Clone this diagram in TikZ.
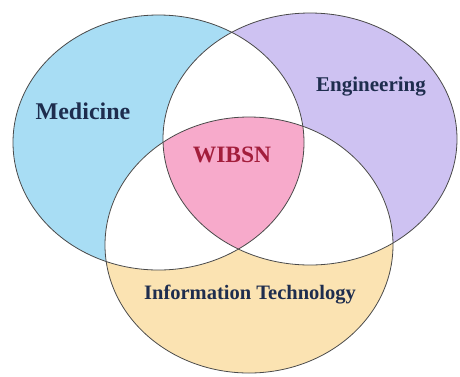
\documentclass[tikz,border=0pt]{standalone}
\usepackage{xcolor}
\usepackage{fontspec}
\setmainfont{Liberation Serif}
\usepackage{tikz}

\definecolor{medblue}{HTML}{A8DDF4}
\definecolor{engviolet}{HTML}{CEC2F2}
\definecolor{itpeach}{HTML}{FBE3B2}
\definecolor{corepink}{HTML}{F7AACB}
\definecolor{labelnavy}{HTML}{1E2D4E}
\definecolor{corered}{HTML}{A31E3C}
\definecolor{rim}{HTML}{4A4A4A}

\def\medset{(158.5,142.5) ellipse [x radius=145.5pt, y radius=127.5pt]}
\def\engset{(310,139) ellipse [x radius=147pt, y radius=126pt]}
\def\itset{(249,245) ellipse [x radius=144pt, y radius=128pt]}

\tikzset{
	setlabel/.style={font=\bfseries, text=labelnavy, inner sep=0pt}
}

\begin{document}
\begin{tikzpicture}[x=1pt,y=-1pt]
\useasboundingbox (0,0) rectangle (460,376);

\fill[medblue] \medset;
\fill[engviolet] \engset;
\fill[itpeach] \itset;

\begin{scope}
\clip \medset;
\fill[white] \engset;
\fill[white] \itset;
\end{scope}
\begin{scope}
\clip \engset;
\fill[white] \itset;
\end{scope}
\begin{scope}
\clip \medset;
\clip \engset;
\fill[corepink] \itset;
\end{scope}

\draw[rim, line width=0.8pt] \medset;
\draw[rim, line width=0.8pt] \engset;
\draw[rim, line width=0.8pt] \itset;

\node[setlabel, font=\fontsize{24}{28}\selectfont\bfseries] (medicine) at (83,111) {Medicine};
\node[setlabel, font=\fontsize{21}{25}\selectfont\bfseries] (engineering) at (371,87) {Engineering};
\node[setlabel, font=\fontsize{20.5}{24}\selectfont\bfseries] (infotech) at (250,295) {Information Technology};
\node[setlabel, text=corered, font=\fontsize{23.5}{28}\selectfont\bfseries] (wibsn) at (232,155) {WIBSN};

\end{tikzpicture}
\end{document}
